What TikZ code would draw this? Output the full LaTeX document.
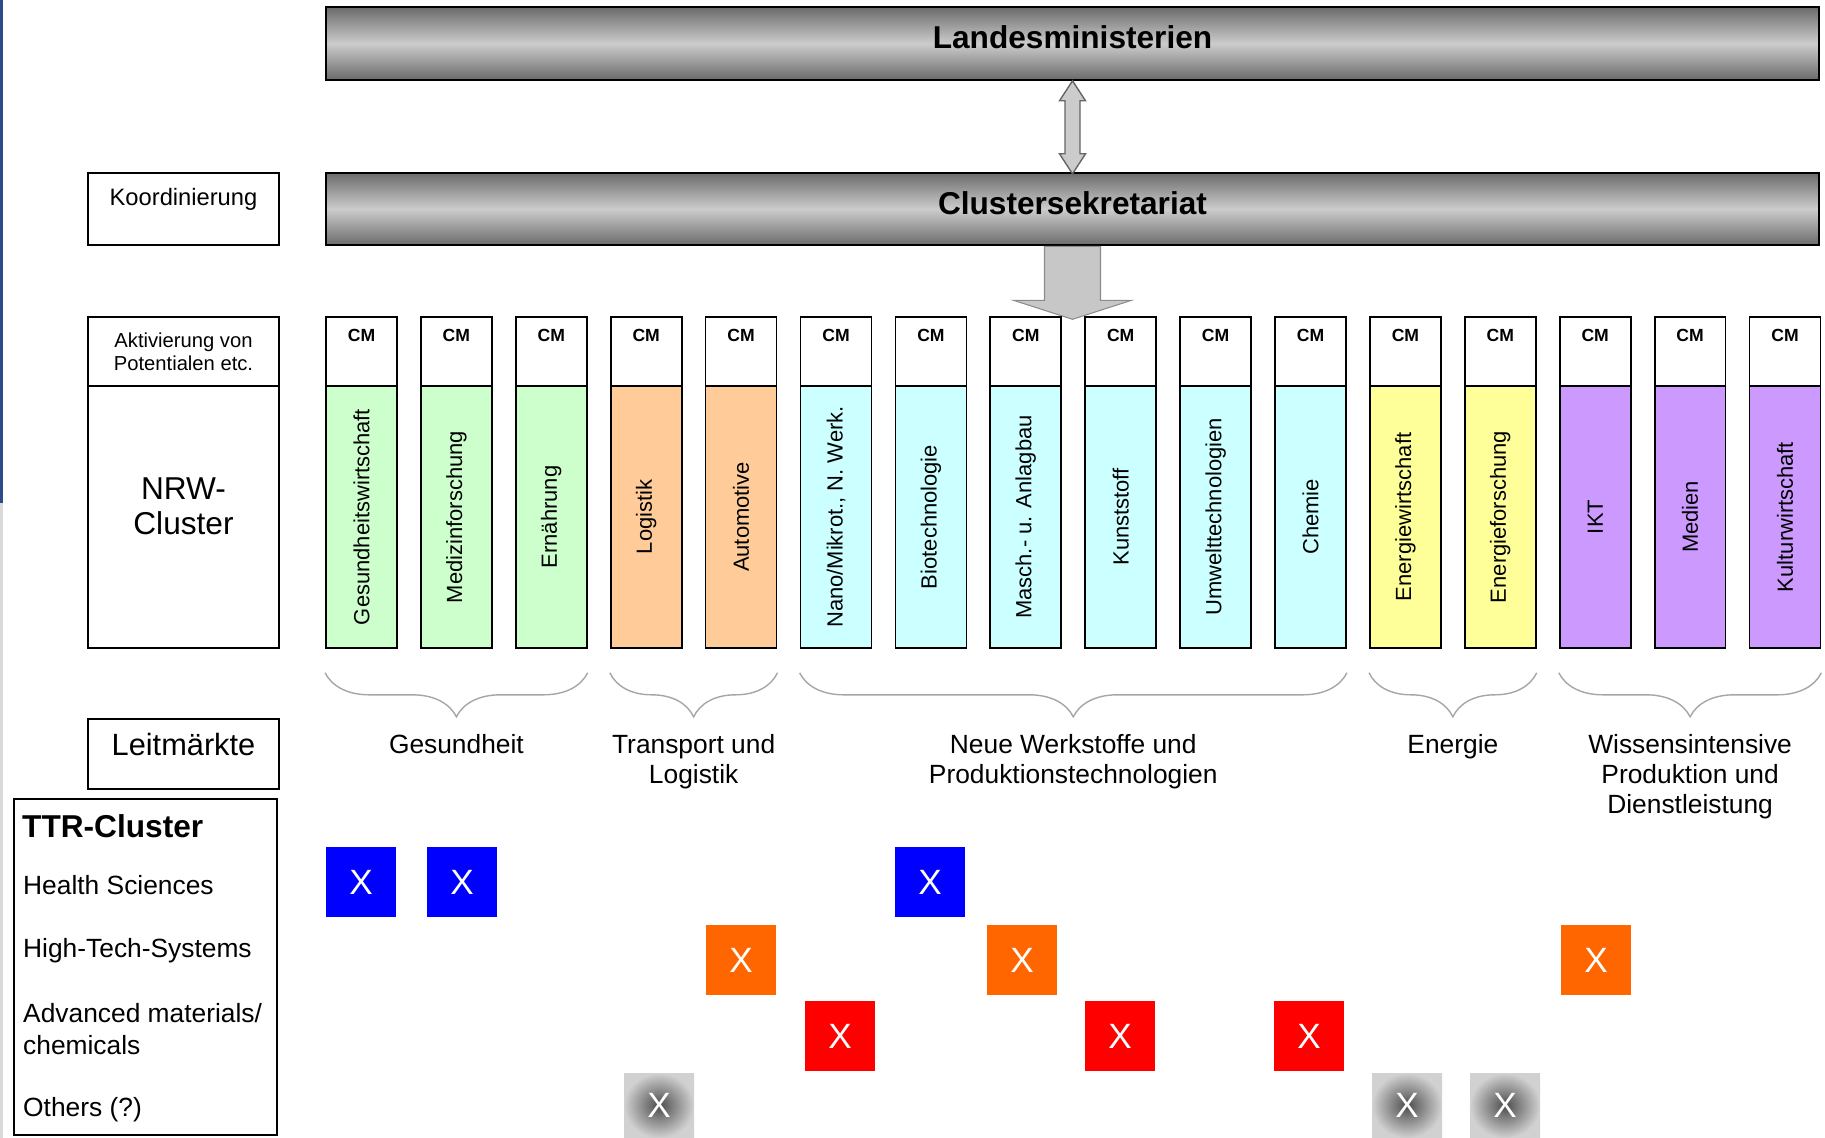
\documentclass[tikz,border=0pt]{standalone}
\usepackage{fontspec}
\setmainfont{Liberation Sans}
\usetikzlibrary{positioning,decorations.pathreplacing}
\definecolor{gesgreen}{HTML}{CCFFCC}
\definecolor{trorange}{HTML}{FFCC99}
\definecolor{nwcyan}{HTML}{CCFFFF}
\definecolor{enyellow}{HTML}{FFFF99}
\definecolor{wipurple}{HTML}{CC99FF}
\definecolor{hsblue}{HTML}{0000FF}
\definecolor{htsorange}{HTML}{FF6600}
\definecolor{amred}{HTML}{FF0000}
\definecolor{slideblue}{HTML}{2B4C8C}

\begin{document}
\begin{tikzpicture}[x=0.02cm, y=-0.02cm,
    bar/.style={draw=black, line width=1.2pt, minimum width=29.86cm, minimum height=1.45cm,
        top color=black!58, bottom color=black!58, middle color=black!20, text depth=7pt,
        font=\bfseries\fontsize{18}{20}\selectfont},
    leftbox/.style={draw, line width=1pt, fill=white, minimum width=3.82cm},
    cmbox/.style={draw, line width=1pt, fill=white, minimum width=1.42cm, minimum height=1.38cm},
    colbox/.style={draw, line width=1pt, minimum width=1.42cm, minimum height=5.24cm},
    brace/.style={decorate, decoration={brace, mirror, amplitude=0.88cm}, draw=gray!70, line width=0.8pt},
    grouptext/.style={align=center, font=\fontsize{15}{17}\selectfont},
    rowtext/.style={anchor=west, align=left, font=\fontsize{15}{18}\selectfont},
    xbox/.style={minimum size=1.4cm, inner sep=0pt, text=white, font=\fontsize{20}{20}\selectfont}]

    \path[use as bounding box, fill=white] (0,0) rectangle (1825,1138);
    \fill[slideblue] (0,0) rectangle (3,503);
    \fill[black!15] (0,503) rectangle (3,1138);

    \node[bar] (land) at (1072.5,43.5) {Landesministerien};
    \node[bar] (sekr) at (1072.5,209) {Clustersekretariat};
    \draw[fill=black!20, draw=black!60, line width=0.8pt] (land.south) -- ++(13,20) -- ++(-5.5,0) -- ++(0,53)
        -- ++(5.5,0) -- ++(-13,20) -- ++(-13,-20) -- ++(5.5,0) -- ++(0,-53) -- ++(-5.5,0) -- cycle;
    \draw[fill=black!22, draw=black!45, line width=0.6pt] (sekr.south) ++(-28,0) -- ++(0,54) -- ++(-31,0)
        -- ++(59,19) -- ++(59,-19) -- ++(-31,0) -- ++(0,-54) -- cycle;

    \node[leftbox, minimum height=1.44cm] (koord) at (183.5,209) {};
    \node[below=5.5pt of koord.north, font=\fontsize{13.5}{15}\selectfont] (koordt) {Koordinierung};
    \node[leftbox, minimum height=1.38cm, align=center, font=\fontsize{11.5}{13}\selectfont] (aktiv) at (183.5,351.5)
        {Aktivierung von\\Potentialen etc.};
    \node[leftbox, minimum height=5.24cm, below=-1pt of aktiv] (nrw) {};
    \node[align=center, font=\fontsize{18}{20}\selectfont] (nrwt) at (183.5,506) {NRW-\\Cluster};
    \node[leftbox, minimum height=1.4cm] (leit) at (183.5,754) {};
    \node[below=5pt of leit.north, font=\fontsize{17.5}{19}\selectfont] (leitt) {Leitmärkte};

    \foreach \i/\lab/\fillc in {1/Gesundheitswirtschaft/gesgreen, 2/Medizinforschung/gesgreen,
        3/Ernährung/gesgreen, 4/Logistik/trorange, 5/Automotive/trorange,
        6/{Nano/Mikrot., N. Werk.}/nwcyan, 7/Biotechnologie/nwcyan, 8/{Masch.- u. Anlagbau}/nwcyan,
        9/Kunststoff/nwcyan, 10/Umwelttechnologien/nwcyan, 11/Chemie/nwcyan,
        12/Energiewirtschaft/enyellow, 13/Energieforschung/enyellow,
        14/IKT/wipurple, 15/Medien/wipurple, 16/Kulturwirtschaft/wipurple}{
        \node[cmbox] (cm\i) at ({361.5+94.9*(\i-1)},351.5) {};
        \node[colbox, fill=\fillc, below=-1pt of cm\i] (col\i) {};
        \node[below=4pt of cm\i.north, font=\bfseries\fontsize{10}{12}\selectfont] (cmt\i) {CM};
        \node[rotate=90, font=\fontsize{12.5}{14}\selectfont] (lab\i) at (col\i) {\lab};
    }

    \draw[brace] ([yshift=-0.48cm]col1.south west) -- node[grouptext, below=1.1cm] (gges) {Gesundheit}
        ([yshift=-0.48cm]col3.south east);
    \draw[brace] ([yshift=-0.48cm]col4.south west) -- node[grouptext, below=1.1cm] (gtrans) {Transport und\\Logistik}
        ([yshift=-0.48cm]col5.south east);
    \draw[brace] ([yshift=-0.48cm]col6.south west) -- node[grouptext, below=1.1cm] (gneu)
        {Neue Werkstoffe und\\Produktionstechnologien} ([yshift=-0.48cm]col11.south east);
    \draw[brace] ([yshift=-0.48cm]col12.south west) -- node[grouptext, below=1.1cm] (gen) {Energie}
        ([yshift=-0.48cm]col13.south east);
    \draw[brace] ([yshift=-0.48cm]col14.south west) -- node[grouptext, below=1.1cm] (gwiss)
        {Wissensintensive\\Produktion und\\Dienstleistung} ([yshift=-0.48cm]col16.south east);

    \node[draw, line width=1.6pt, minimum width=5.26cm, minimum height=6.72cm] (ttr) at (145.5,967) {};
    \node[anchor=west, font=\bfseries\fontsize{18}{20}\selectfont] (ttrt) at (16,826) {TTR-Cluster};
    \node[rowtext] (rhs) at (17,885) {Health Sciences};
    \node[rowtext] (rhts) at (17,951) {High-Tech-Systems};
    \node[rowtext] (ram) at (17,1029) {Advanced materials/\\chemicals};
    \node[rowtext] (rot) at (17,1110) {Others (?)};

    \foreach \n/\x/\y/\c in {hs1/361/882/hsblue, hs2/462/882/hsblue, hs3/930/882/hsblue,
        hts1/741/960/htsorange, hts2/1022/960/htsorange, hts3/1596/960/htsorange,
        am1/840/1036/amred, am2/1120/1036/amred, am3/1309/1036/amred}
        \node[xbox, fill=\c] (\n) at (\x,\y) {X};
    \foreach \n/\x in {ot1/659, ot2/1407, ot3/1505}
        \node[xbox, minimum height=1.3cm, inner color=black!70, outer color=black!18, text depth=-8pt] (\n) at (\x,1105.5) {X};
\end{tikzpicture}
\end{document}
